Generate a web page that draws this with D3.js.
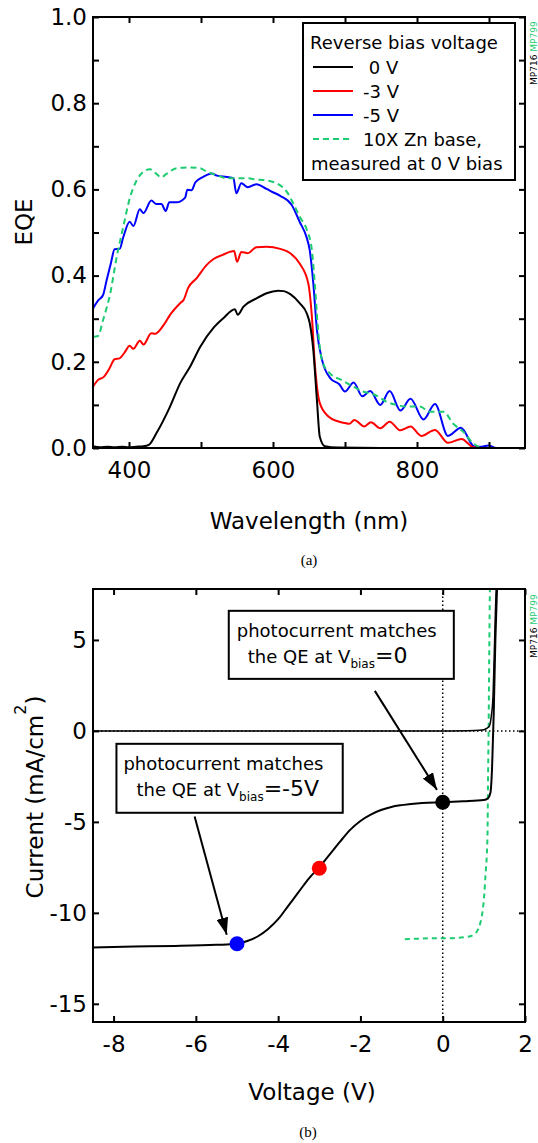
<!DOCTYPE html>
<html>
<head>
<meta charset="utf-8">
<script src="https://cdn.jsdelivr.net/npm/d3@7"></script>
<style>
	body { margin: 0; background: #fff; }
	svg text { font-family: "DejaVu Sans", Verdana, sans-serif; }
</style>
</head>
<body>
<svg id="fig" width="538" height="1143"></svg>
<script>
// ---- panel (a): EQE vs wavelength ----
const wl0V = [350, 360, 370, 380, 390, 400, 410, 420, 428, 438, 457, 471, 485, 499, 517, 531, 547, 551, 559, 577, 591, 607, 615, 624, 637, 647, 651, 656, 661, 665, 672, 690, 750, 850, 950];
const eqe0V = [0.004, 0.002, 0.003, 0.002, 0.003, 0.002, 0.003, 0.004, 0.008, 0.034, 0.096, 0.150, 0.189, 0.235, 0.278, 0.301, 0.322, 0.309, 0.328, 0.347, 0.359, 0.365, 0.364, 0.357, 0.336, 0.312, 0.290, 0.227, 0.111, 0.026, 0.004, 0.001, 0, 0, 0];

const wl3V = [350, 357, 365, 373, 380, 387, 394, 401, 406, 415, 420, 431, 436, 448, 457, 471, 476, 482, 494, 508, 517, 530, 540, 546, 550, 556, 565, 577, 591, 610, 624, 637, 649, 654, 658, 665, 677, 690, 700, 706, 713, 727, 736, 749, 762, 777, 791, 806, 825, 843, 862, 878, 900, 950];
const eqe3V = [0.142, 0.158, 0.165, 0.185, 0.206, 0.208, 0.222, 0.237, 0.230, 0.249, 0.240, 0.266, 0.265, 0.285, 0.309, 0.336, 0.344, 0.371, 0.394, 0.425, 0.438, 0.448, 0.455, 0.457, 0.432, 0.455, 0.452, 0.466, 0.467, 0.462, 0.452, 0.428, 0.382, 0.305, 0.197, 0.104, 0.073, 0.062, 0.058, 0.056, 0.065, 0.050, 0.060, 0.046, 0.061, 0.041, 0.050, 0.028, 0.042, 0.012, 0.021, 0.002, 0, 0];

const wl5V = [350, 357, 364, 369, 375, 380, 387, 392, 401, 406, 415, 420, 431, 438, 445, 451, 456, 466, 478, 481, 487, 492, 503, 515, 522, 536, 545, 549, 556, 565, 577, 591, 598, 610, 626, 637, 647, 651, 656, 661, 668, 680, 692, 700, 712, 724, 735, 749, 762, 777, 791, 809, 825, 843, 861, 880, 890, 899, 910, 950];
const eqe5V = [0.324, 0.342, 0.355, 0.390, 0.430, 0.461, 0.462, 0.489, 0.525, 0.515, 0.554, 0.545, 0.574, 0.566, 0.566, 0.550, 0.570, 0.570, 0.581, 0.599, 0.598, 0.616, 0.629, 0.637, 0.632, 0.629, 0.626, 0.591, 0.614, 0.605, 0.612, 0.601, 0.595, 0.585, 0.564, 0.525, 0.487, 0.459, 0.382, 0.274, 0.205, 0.161, 0.148, 0.131, 0.152, 0.120, 0.132, 0.100, 0.132, 0.087, 0.114, 0.066, 0.102, 0.028, 0.047, 0.003, 0.003, 0.006, 0, 0];

const wlZn = [350, 357, 364, 374, 383, 392, 401, 411, 420, 429, 438, 445, 452, 466, 485, 499, 508, 522, 536, 550, 563, 577, 591, 605, 619, 628, 637, 647, 654, 658, 663, 668, 679, 695, 712, 725, 742, 758, 772, 786, 804, 818, 830, 837, 850, 864, 878, 892, 950];
const eqeZn = [0.258, 0.260, 0.297, 0.359, 0.444, 0.513, 0.579, 0.622, 0.641, 0.647, 0.636, 0.628, 0.636, 0.649, 0.651, 0.649, 0.641, 0.633, 0.626, 0.626, 0.626, 0.623, 0.621, 0.614, 0.595, 0.568, 0.537, 0.506, 0.459, 0.382, 0.266, 0.204, 0.173, 0.158, 0.142, 0.131, 0.123, 0.107, 0.100, 0.096, 0.096, 0.084, 0.084, 0.084, 0.057, 0.038, 0.011, 0, 0];

const eqeTicksX = [400, 500, 600, 700, 800, 900];
const eqeLabelsX = [400, 600, 800];
const eqeTicksY = [0, 0.1, 0.2, 0.3, 0.4, 0.5, 0.6, 0.7, 0.8, 0.9, 1.0];
const eqeLabelsY = [0, 0.2, 0.4, 0.6, 0.8, 1.0];
const legendTitle = "Reverse bias voltage";
const legendLabels = ["\u00a00 V", "-3 V", "-5 V", "10X Zn base,"];
const legendNote = "measured at 0 V bias";

// ---- panel (b): current vs voltage ----
const jvVoltDark = [-8.5, -6, -4, -2, 0, 0.6, 0.9, 1.0, 1.08, 1.14, 1.18, 1.22, 1.25, 1.28, 1.31];
const jvDark = [0, 0, 0, 0, 0, 0.01, 0.03, 0.06, 0.15, 0.3, 0.8, 1.8, 4.0, 6.5, 8.5];

const jvVoltLight = [-8.5, -7.5, -6.5, -5.5, -5.0, -4.75, -4.5, -4.25, -4.0, -3.75, -3.5, -3.25, -3.0, -2.75, -2.5, -2.25, -2.0, -1.75, -1.5, -1.25, -1.0, -0.5, 0, 0.5, 1.0, 1.1, 1.16, 1.2, 1.24, 1.28, 1.33];
const jvLight = [-11.9, -11.85, -11.82, -11.76, -11.7, -11.55, -11.3, -10.9, -10.35, -9.6, -8.85, -8.1, -7.5, -6.8, -6.1, -5.44, -4.95, -4.6, -4.35, -4.18, -4.08, -3.96, -3.92, -3.87, -3.8, -3.7, -3.4, -2.0, 1.0, 5.0, 8.5];

const jvVoltZn = [-0.92, -0.6, -0.3, 0, 0.3, 0.6, 0.75, 0.85, 0.92, 0.97, 1.01, 1.04, 1.07, 1.09, 1.1, 1.115, 1.13, 1.15];
const jvZn = [-11.45, -11.42, -11.4, -11.4, -11.38, -11.32, -11.2, -10.95, -10.5, -9.9, -9.0, -7.9, -6.9, -5.5, -3.0, 0, 4.0, 8.5];

const markerVolt = [-5, -3, 0];
const markerCurrent = [-11.7, -7.55, -3.92];

const jvTicksX = [-8, -6, -4, -2, 0, 2];
const jvTicksY = [-15, -10, -5, 0, 5];

const GREEN = "#1dcc70";
const svg = d3.select("#fig");

/** Frame + inward ticks on all four sides */
function drawFrame(g, x, y, ticksX, ticksY, fmtX, fmtY) {
	const [x0, x1] = x.range();
	const [y0, y1] = y.range(); // y0 = bottom

	const style = (sel) => {
		sel.select(".domain").remove();
		sel.selectAll(".tick line").attr("stroke-width", 2);
		sel.attr("font-family", "DejaVu Sans").attr("font-size", 23);
	};

	g.append("g")
		.attr("transform", `translate(0,${y0})`)
		.call(d3.axisBottom(x).tickValues(ticksX).tickSize(-6).tickPadding(14).tickFormat(fmtX))
		.call(style);
	g.append("g")
		.attr("transform", `translate(0,${y1})`)
		.call(d3.axisTop(x).tickValues(ticksX).tickSize(-6).tickFormat(""))
		.call(style);
	g.append("g")
		.attr("transform", `translate(${x0},0)`)
		.call(d3.axisLeft(y).tickValues(ticksY).tickSize(-6).tickPadding(6).tickFormat(fmtY))
		.call(style);
	g.append("g")
		.attr("transform", `translate(${x1},0)`)
		.call(d3.axisRight(y).tickValues(ticksY).tickSize(-6).tickFormat(""))
		.call(style);

	g.append("rect")
		.attr("x", x0).attr("y", y1)
		.attr("width", x1 - x0).attr("height", y0 - y1)
		.attr("fill", "none").attr("stroke", "black").attr("stroke-width", 2);
}

function sampleTag(x, y) {
	const t = svg.append("text")
		.attr("transform", `translate(${x},${y}) rotate(-90)`)
		.attr("font-size", 9);
	t.append("tspan").attr("fill", "black").text("MP716 ");
	t.append("tspan").attr("fill", GREEN).text("MP799");
}

// ================= panel (a) =================
function drawEqe() {
	const x = d3.scaleLinear().domain([350, 950]).range([93, 525]);
	const y = d3.scaleLinear().domain([0, 1]).range([448, 17]);
	const g = svg.append("g");

	g.append("clipPath").attr("id", "clipA")
		.append("rect").attr("x", 93).attr("y", 17).attr("width", 432).attr("height", 431);

	const line = d3.line()
		.x((d) => x(d[0]))
		.y((d) => y(d[1]))
		.curve(d3.curveMonotoneX);

	const series = [
		{ wl: wl5V, v: eqe5V, color: "#0000ff", dash: null },
		{ wl: wl3V, v: eqe3V, color: "#ff0000", dash: null },
		{ wl: wl0V, v: eqe0V, color: "black", dash: null },
		{ wl: wlZn, v: eqeZn, color: GREEN, dash: "6,4" },
	];

	const lines = g.append("g").attr("clip-path", "url(#clipA)");
	series.forEach((s) => {
		lines.append("path")
			.datum(d3.zip(s.wl, s.v))
			.attr("d", line)
			.attr("fill", "none")
			.attr("stroke", s.color)
			.attr("stroke-width", 2)
			.attr("stroke-dasharray", s.dash);
	});

	drawFrame(g, x, y, eqeTicksX, eqeTicksY,
		(d) => (eqeLabelsX.includes(d) ? d : ""),
		(d) => (eqeLabelsY.some((v) => Math.abs(v - d) < 1e-9) ? d3.format(".1f")(d) : ""));

	// legend
	const lx = 303, ly = 23;
	const leg = g.append("g").attr("font-size", 18);
	leg.append("rect")
		.attr("x", lx).attr("y", ly).attr("width", 212).attr("height", 157)
		.attr("fill", "white").attr("stroke", "black").attr("stroke-width", 2);
	leg.append("text").attr("x", lx + 7).attr("y", ly + 26).text(legendTitle);

	const legColors = ["black", "#ff0000", "#0000ff", GREEN];
	legendLabels.forEach((lab, i) => {
		const by = ly + 51 + i * 24;
		leg.append("line")
			.attr("x1", lx + 10).attr("x2", lx + 50)
			.attr("y1", by - 7).attr("y2", by - 7)
			.attr("stroke", legColors[i]).attr("stroke-width", 2)
			.attr("stroke-dasharray", i === 3 ? "6,4" : null);
		leg.append("text").attr("x", lx + 60).attr("y", by).text(lab);
	});
	leg.append("text").attr("x", lx + 8).attr("y", ly + 147).text(legendNote);

	// axis titles
	svg.append("text")
		.attr("transform", "translate(32,222) rotate(-90)")
		.attr("text-anchor", "middle").attr("font-size", 23)
		.text("EQE");
	svg.append("text")
		.attr("x", 309).attr("y", 529)
		.attr("text-anchor", "middle").attr("font-size", 23)
		.text("Wavelength (nm)");
	svg.append("text")
		.attr("x", 309).attr("y", 565)
		.attr("text-anchor", "middle").attr("font-size", 15)
		.style("font-family", "'Liberation Serif', serif")
		.text("(a)");

	sampleTag(537, 85);
}

// ================= panel (b) =================
function drawJv() {
	const x = d3.scaleLinear().domain([-8.5, 2]).range([93, 525]);
	const y = d3.scaleLinear().domain([-16, 7.8]).range([1022, 589]);
	const g = svg.append("g");

	g.append("clipPath").attr("id", "clipB")
		.append("rect").attr("x", 93).attr("y", 589).attr("width", 432).attr("height", 433);

	const plot = g.append("g").attr("clip-path", "url(#clipB)");

	// dotted zero lines
	plot.append("line")
		.attr("x1", x(-8.5)).attr("x2", x(2)).attr("y1", y(0)).attr("y2", y(0))
		.attr("stroke", "black").attr("stroke-width", 1.5).attr("stroke-dasharray", "1.5,2.5");
	plot.append("line")
		.attr("x1", x(0)).attr("x2", x(0)).attr("y1", y(-16)).attr("y2", y(7.8))
		.attr("stroke", "black").attr("stroke-width", 1.5).attr("stroke-dasharray", "1.5,2.5");

	const line = d3.line()
		.x((d) => x(d[0]))
		.y((d) => y(d[1]))
		.curve(d3.curveMonotoneX);

	plot.append("path")
		.datum(d3.zip(jvVoltZn, jvZn))
		.attr("d", line)
		.attr("fill", "none").attr("stroke", GREEN)
		.attr("stroke-width", 2).attr("stroke-dasharray", "5,4");
	plot.append("path")
		.datum(d3.zip(jvVoltDark, jvDark))
		.attr("d", line)
		.attr("fill", "none").attr("stroke", "black").attr("stroke-width", 1.5);
	plot.append("path")
		.datum(d3.zip(jvVoltLight, jvLight))
		.attr("d", line)
		.attr("fill", "none").attr("stroke", "black").attr("stroke-width", 2);

	const markerColors = ["#0000ff", "#ff0000", "black"];
	plot.selectAll("circle")
		.data(d3.zip(markerVolt, markerCurrent))
		.join("circle")
		.attr("cx", (d) => x(d[0]))
		.attr("cy", (d) => y(d[1]))
		.attr("r", 7.5)
		.attr("fill", (d, i) => markerColors[i]);

	drawFrame(g, x, y, jvTicksX, jvTicksY, (d) => String(d), (d) => String(d));

	// arrows
	const defs = svg.append("defs");
	defs.append("marker")
		.attr("id", "head")
		.attr("markerUnits", "userSpaceOnUse")
		.attr("markerWidth", 18).attr("markerHeight", 12)
		.attr("refX", 17).attr("refY", 6)
		.attr("orient", "auto")
		.append("path").attr("d", "M0,0L17,6L0,12Z").attr("fill", "black");

	const arrows = [
		[[-1.65, 2.2], [-0.14, -3.24]],
		[[-6.03, -4.7], [-5.25, -11.2]],
	];
	arrows.forEach(([a, b]) => {
		g.append("line")
			.attr("x1", x(a[0])).attr("y1", y(a[1]))
			.attr("x2", x(b[0])).attr("y2", y(b[1]))
			.attr("stroke", "black").attr("stroke-width", 2)
			.attr("marker-end", "url(#head)");
	});

	// annotation boxes (corners in data units)
	const boxes = [
		{ v0: -5.2, v1: 0.27, i0: 6.6, i1: 2.86, sub: "=0", dx1: 8, dx2: 19 },
		{ v0: -7.93, v1: -2.43, i0: -0.71, i1: -4.5, sub: "=-5V", dx1: 7, dx2: 20 },
	];
	boxes.forEach((b) => {
		const bx = x(b.v0), by = y(b.i0);
		g.append("rect")
			.attr("x", bx).attr("y", by)
			.attr("width", x(b.v1) - bx).attr("height", y(b.i1) - by)
			.attr("fill", "white").attr("stroke", "black").attr("stroke-width", 2);
		g.append("text").attr("x", bx + b.dx1).attr("y", by + 26)
			.attr("font-size", 18).text("photocurrent matches");
		const t = g.append("text").attr("x", bx + b.dx2).attr("y", by + 52).attr("font-size", 18);
		t.append("tspan").text("the QE at V");
		t.append("tspan").attr("font-size", 12).attr("dy", 5).text("bias");
		t.append("tspan").attr("font-size", 22).attr("dy", -5).text(b.sub);
	});

	// axis titles
	const yt = svg.append("text")
		.attr("transform", "translate(43,797) rotate(-90)")
		.attr("text-anchor", "middle").attr("font-size", 23);
	yt.append("tspan").text("Current (mA/cm");
	yt.append("tspan").attr("font-size", 16).attr("dy", -17).text("2");
	yt.append("tspan").attr("dy", 17).text(")");

	svg.append("text")
		.attr("x", 312).attr("y", 1100)
		.attr("text-anchor", "middle").attr("font-size", 23)
		.text("Voltage (V)");
	svg.append("text")
		.attr("x", 308).attr("y", 1137)
		.attr("text-anchor", "middle").attr("font-size", 15)
		.style("font-family", "'Liberation Serif', serif")
		.text("(b)");

	sampleTag(537, 658);
}

drawEqe();
drawJv();
</script>
</body>
</html>
